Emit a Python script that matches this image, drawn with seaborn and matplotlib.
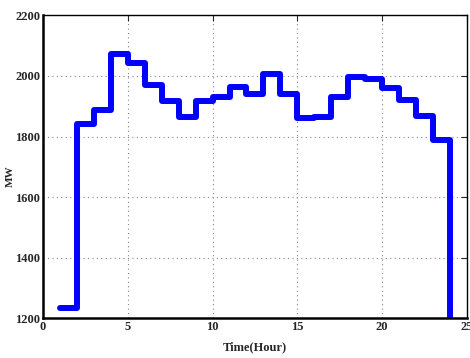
import numpy as np
import pandas as pd
import matplotlib
matplotlib.use("Agg")
import matplotlib.pyplot as plt
import seaborn as sns

# data
hours = list(range(1, 25))
load_mw = [1233, 1841, 1887, 2073, 2043, 1970, 1917, 1866, 1917, 1932, 1963, 1942,
           2005, 1941, 1861, 1864, 1932, 1997, 1990, 1960, 1922, 1868, 1788, 1000]

df = pd.DataFrame({"Hour": hours, "MW": load_mw})

sns.set_style("white")
plt.rcParams["font.family"] = ["Liberation Serif", "DejaVu Serif"]
plt.rcParams["font.weight"] = "bold"

fig = plt.figure(figsize=(4.7, 3.58), dpi=100)
ax = fig.add_axes([0.0915, 0.111, 0.902, 0.846])

sns.lineplot(data=df, x="Hour", y="MW", drawstyle="steps-post",
             color="#0000ff", linewidth=4.3, ax=ax)

ax.set_xlim(0, 25)
ax.set_ylim(1200, 2200)
ax.set_xticks([0, 5, 10, 15, 20, 25])
ax.set_yticks([1200, 1400, 1600, 1800, 2000, 2200])
ax.grid(True, linestyle=(0, (1, 3)), color="#888888", linewidth=0.8)
ax.tick_params(direction="in", top=True, right=True, length=4, width=0.8,
               labelsize=9, pad=2)
for lab in ax.get_xticklabels() + ax.get_yticklabels():
    lab.set_fontweight("bold")
for sp in ax.spines.values():
    sp.set_color("black")
    sp.set_linewidth(1.0)
ax.spines["bottom"].set_linewidth(1.8)
ax.spines["left"].set_linewidth(1.8)

ax.set_xlabel("Time(Hour)", fontsize=9, fontweight="bold", labelpad=6)
ax.set_ylabel("MW", fontsize=8, fontweight="bold")
ax.yaxis.set_label_coords(-0.066, 0.47)

plt.savefig("out.png", dpi=100)
